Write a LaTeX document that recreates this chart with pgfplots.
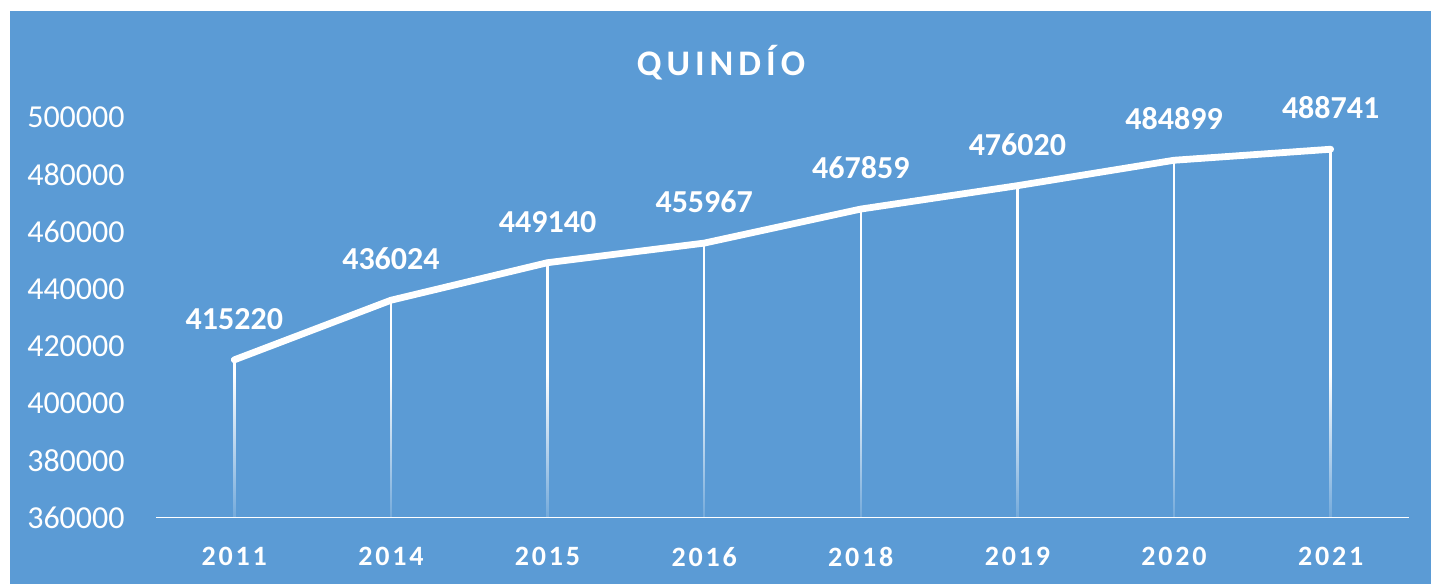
\documentclass[border=0pt]{standalone}
\usepackage{fontspec}
\setmainfont{Carlito}
\newfontfamily\spacedfont[LetterSpace=10]{Carlito}
\newfontfamily\titlefont[LetterSpace=14]{Carlito}
\usepackage{pgfplots}
\pgfplotsset{compat=1.18}
\usetikzlibrary{fadings}
\definecolor{bgblue}{RGB}{91,155,213}
\tikzfading[name=fadeup, top color=transparent!100, bottom color=transparent!15]
\begin{document}
\begin{tikzpicture}
\fill[white] (0,0) rectangle (715.5pt,292pt);
\fill[bgblue] (5pt,0) rectangle (715.5pt,286.5pt);
\node[text=white, font=\titlefont\bfseries\fontsize{18}{22}\selectfont, inner sep=0pt] at (360.5pt,260.5pt) {QUINDÍO};
\begin{axis}[
  at={(78pt,33pt)}, anchor=south west,
  scale only axis, width=626.5pt, height=200.5pt,
  xmin=-0.5, xmax=7.5, ymin=360000, ymax=500000,
  axis line style={draw=none},
  xtick={0,1,2,3,4,5,6,7},
  xticklabels={2011,2014,2015,2016,2018,2019,2020,2021},
  ytick={360000,380000,400000,420000,440000,460000,480000,500000},
  major tick length=0pt,
  tick style={draw=none},
  scaled y ticks=false,
  yticklabel={\pgfmathprintnumber[fixed,precision=0,1000 sep={},assume math mode=true]{\tick}},
  yticklabel style={font=\fontsize{16}{19}\selectfont, text=white, anchor=east, inner sep=0pt, xshift=-15.5pt},
  xticklabel style={font=\spacedfont\bfseries\fontsize{14}{17}\selectfont, text=white, anchor=north, inner sep=0pt, yshift=-14.5pt},
]
\addplot[ycomb, white, line width=1.2pt, mark=none] coordinates {
(0,415220) (1,436024) (2,449140) (3,455967) (4,467859) (5,476020) (6,484899) (7,488741)};
\fill[bgblue, path fading=fadeup] (rel axis cs:0,0) rectangle (axis cs:7.5,410000);
\draw[white, line width=1.3pt] (rel axis cs:0,0) -- (rel axis cs:1,0);
\addplot[white, line width=3.4pt, line cap=round, line join=round, mark=none,
  point meta=y,
  nodes near coords={\pgfmathprintnumber[fixed,precision=0,1000 sep={},assume math mode=true]{\pgfplotspointmeta}},
  nodes near coords style={font=\bfseries\fontsize{16}{19}\selectfont, text=white, anchor=south, inner sep=0pt, yshift=13.5pt}]
coordinates {
(0,415220) (1,436024) (2,449140) (3,455967) (4,467859) (5,476020) (6,484899) (7,488741)};
\end{axis}
\end{tikzpicture}
\end{document}
